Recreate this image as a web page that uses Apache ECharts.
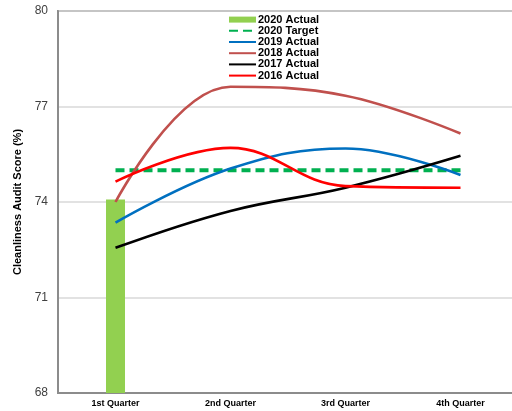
<!DOCTYPE html>
<html>
<head>
<meta charset="utf-8">
<script src="https://cdn.jsdelivr.net/npm/echarts@6/dist/echarts.min.js"></script>
<style>
  html, body { margin: 0; padding: 0; background: #fff; }
  #chart { width: 512px; height: 411px; }
</style>
</head>
<body>
<div id="chart"></div>
<script>
var quarters = ['1st Quarter', '2nd Quarter', '3rd Quarter', '4th Quarter']
var actual2020 = [74.08, null, null, null]
var target2020 = [75, 75, 75, 75]
var actual2019 = [73.35, 75.05, 75.68, 74.85]
var actual2018 = [74.0, 77.62, 77.34, 76.15]
var actual2017 = [72.56, 73.72, 74.45, 75.45]
var actual2016 = [74.64, 75.7, 74.5, 74.45]
var yTicks = [68, 71, 74, 77, 80]

var chart = echarts.init(document.getElementById('chart'))

function lineSeries(name, data, color, extra) {
    var s = {
        name: name,
        type: 'line',
        data: data,
        smooth: 0.4,
        symbol: 'none',
        lineStyle: { color: color, width: 2.6 },
        itemStyle: { color: color },
        z: 3
    }
    return Object.assign(s, extra || {})
}

// legend entries for lines: hide the little marker, keep the line
function lineLegend(name) {
    return { name: name, itemStyle: { opacity: 0 } }
}

var option = {
    animation: false,
    backgroundColor: '#fff',
    grid: {
        left: 58, top: 11, width: 460, bottom: 18,
        outerBoundsMode: 'none',
        show: true,
        borderColor: '#8c8c8c',
        borderWidth: 2
    },
    legend: {
        orient: 'vertical',
        left: 228,
        top: 14,
        itemWidth: 27,
        itemHeight: 6,
        itemGap: 0,
        padding: 0,
        textStyle: {
            fontFamily: 'Liberation Sans, Arial',
            fontWeight: 'bold',
            fontSize: 11,
            lineHeight: 11.2,
            color: '#000',
            padding: [0, 0, 0, -3]
        },
        data: [
            { name: '2020 Actual', icon: 'rect' },
            lineLegend('2020 Target'),
            lineLegend('2019 Actual'),
            lineLegend('2018 Actual'),
            lineLegend('2017 Actual'),
            lineLegend('2016 Actual')
        ]
    },
    xAxis: {
        type: 'category',
        data: quarters,
        axisLine: { lineStyle: { color: '#8c8c8c', width: 2 } },
        axisTick: { show: false },
        axisLabel: {
            fontFamily: 'Liberation Sans Narrow, Liberation Sans, Arial',
            fontWeight: 'bold',
            fontSize: 9,
            color: '#000',
            margin: 6
        }
    },
    yAxis: {
        type: 'value',
        min: yTicks[0],
        max: yTicks[yTicks.length - 1],
        interval: 3,
        name: 'Cleanliness Audit Score (%)',
        nameLocation: 'middle',
        nameGap: 34,
        nameTextStyle: {
            fontFamily: 'Liberation Sans, Arial',
            fontWeight: 'bold',
            fontSize: 11,
            color: '#000'
        },
        axisLine: { show: true, lineStyle: { color: '#8c8c8c', width: 2 } },
        axisTick: { show: false },
        splitLine: { lineStyle: { color: '#d9d9d9', width: 1.5 } },
        axisLabel: {
            fontFamily: 'Liberation Sans, Arial',
            fontSize: 12,
            color: '#404040',
            margin: 10
        }
    },
    series: [
        {
            name: '2020 Actual',
            type: 'bar',
            data: actual2020,
            barWidth: 19,
            itemStyle: { color: '#92d050' },
            z: 2
        },
        lineSeries('2020 Target', target2020, '#00b050', {
            smooth: false,
            lineStyle: { color: '#00b050', width: 4, type: [9, 5] }
        }),
        lineSeries('2019 Actual', actual2019, '#0070c0'),
        lineSeries('2018 Actual', actual2018, '#c0504d'),
        lineSeries('2017 Actual', actual2017, '#000000'),
        lineSeries('2016 Actual', actual2016, '#ff0000')
    ]
}

chart.setOption(option)
</script>
</body>
</html>
